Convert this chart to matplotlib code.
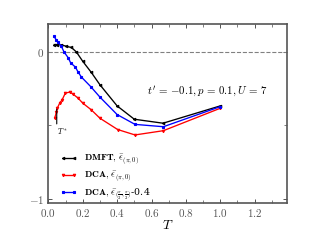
import matplotlib
matplotlib.use('Agg')
from matplotlib import pyplot as plt
from matplotlib.ticker import MultipleLocator, FixedLocator

plt.rcParams['mathtext.fontset'] = 'cm'
plt.rcParams['font.family'] = ['DejaVu Serif']

# data
T_dmft = [0.035, 0.05, 0.075, 0.105, 0.134, 0.163, 0.2, 0.25, 0.3, 0.4, 0.5, 0.667, 1.0]
e_dmft = [0.05, 0.05, 0.048, 0.038, 0.03, 0.0, -0.064, -0.14, -0.224, -0.368, -0.459, -0.486, -0.368]

T_red = [0.037, 0.047, 0.052, 0.066, 0.08, 0.099, 0.124, 0.144, 0.173, 0.2, 0.25, 0.3, 0.403, 0.504, 0.669, 1.0]
e_red = [-0.452, -0.411, -0.384, -0.349, -0.327, -0.281, -0.274, -0.288, -0.315, -0.349, -0.395, -0.452,
         -0.529, -0.566, -0.537, -0.384]

T_blue = [0.033, 0.045, 0.056, 0.074, 0.091, 0.115, 0.13, 0.157, 0.173, 0.192, 0.246, 0.3, 0.4, 0.504, 0.669, 1.0]
e_blue = [0.105, 0.084, 0.064, 0.043, 0.0, -0.039, -0.075, -0.103, -0.137, -0.171, -0.236, -0.308, -0.427,
          -0.494, -0.51, -0.373]

T_star = 0.049

fig = plt.figure(figsize=(4, 3), dpi=80)
ax = fig.add_axes([0.151, 0.154, 0.747, 0.746])

ax.axhline(0, color='gray', linestyle='--', linewidth=1)

ax.plot(T_dmft, e_dmft, color='k', marker='<', markersize=2.2, linewidth=1.2,
        label=r'$\mathbf{DMFT},\,\bar{\epsilon}_{(\pi,0)}$')
ax.plot(T_red, e_red, color='r', marker='v', markersize=2.2, linewidth=1.2,
        label=r'$\mathbf{DCA},\,\bar{\epsilon}_{(\pi,0)}$')
ax.plot(T_blue, e_blue, color='b', marker='s', markersize=2.2, linewidth=1.2,
        label=r'$\mathbf{DCA},\,\bar{\epsilon}_{(\frac{\pi}{2},\frac{\pi}{2})}$-0.4')

# T* marker
ax.annotate(r'$T^*$', xy=(T_star, -0.39), xytext=(T_star, -0.54), fontsize=7,
            va='center', ha='left',
            arrowprops=dict(arrowstyle='-', color='k', lw=1, shrinkA=0, shrinkB=0,
                            relpos=(0, 0.8)))

ax.text(0.575, -0.27, r"$t'\,=\,{-}0.1, p\,=\,0.1, U\,=\,7$", fontsize=9.8, va='center', ha='left')

ax.set_xlim(0, 1.39)
ax.set_ylim(-1.03, 0.19)
ax.xaxis.set_major_locator(MultipleLocator(0.2))
ax.xaxis.set_minor_locator(MultipleLocator(0.1))
ax.yaxis.set_major_locator(FixedLocator([-1, 0]))
ax.yaxis.set_minor_locator(FixedLocator([-0.5]))
ax.set_xticklabels([r'$%.1f$' % v for v in ax.get_xticks()])
ax.set_yticklabels([r'$-1$', r'$0$'])
ax.tick_params(which='both', direction='in', top=True, right=True, colors='#444444',
               labelcolor='#555555', labelsize=10)
ax.tick_params(which='major', length=4)
ax.tick_params(which='minor', length=3)
for s in ax.spines.values():
    s.set_color('#555555')
    s.set_linewidth(1.5)

ax.set_xlabel(r'$T$', fontsize=12, labelpad=0)

ax.legend(loc='lower left', frameon=False, fontsize=8.5, numpoints=2, handlelength=1.7,
          bbox_to_anchor=(0.015, -0.04), labelspacing=0.28)

plt.savefig('out.png', dpi=80)
